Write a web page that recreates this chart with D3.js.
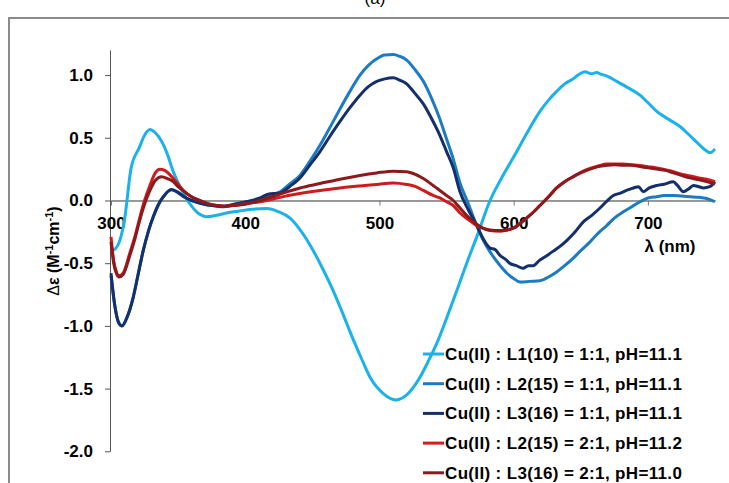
<!DOCTYPE html>
<html>
<head>
<meta charset="utf-8">
<script src="https://cdn.jsdelivr.net/npm/d3@7"></script>
<style>
  html, body { margin: 0; padding: 0; background: #fff; }
  svg { display: block; }
  text { font-family: "Liberation Sans", Arial, sans-serif; }
</style>
</head>
<body>
<svg id="chart" width="729" height="483"></svg>
<script>
// CD spectra of Cu(II) complexes: wavelength (nm) vs. Δε (M^-1 cm^-1)

const xTicks = [300, 400, 500, 600, 700];
const yTicks = [-2.0, -1.5, -1.0, -0.5, 0.0, 0.5, 1.0];

const seriesLabels = [
  "Cu(II) : L1(10) = 1:1, pH=11.1",
  "Cu(II) : L2(15) = 1:1, pH=11.1",
  "Cu(II) : L3(16) = 1:1, pH=11.1",
  "Cu(II) : L2(15) = 2:1, pH=11.2",
  "Cu(II) : L3(16) = 2:1, pH=11.0"
];
const seriesColors = ["#1BB1EA", "#1D7BC4", "#142F6C", "#CF1A1E", "#8C1A1C"];

// [wavelength, Δε]
const cuL1_11 = [[300,-0.41],[305,-0.36],[310,-0.16],[315,0.26],[321,0.42],[325,0.52],[329,0.566],[333,0.54],
  [337.8,0.47],[342,0.37],[346.4,0.23],[350,0.14],[355,0.04],[359,-0.03],[363.8,-0.09],[368,-0.12],[371,-0.13],
  [378,-0.12],[386,-0.10],[395,-0.085],[405,-0.07],[416,-0.064],[425,-0.09],[433.4,-0.14],[442,-0.25],[450.7,-0.40],
  [458,-0.55],[465.6,-0.72],[473,-0.91],[480.5,-1.11],[487,-1.27],[493,-1.41],[502.9,-1.54],[512.3,-1.59],
  [520.3,-1.55],[530.2,-1.41],[536,-1.29],[542.7,-1.14],[550,-0.94],[557.6,-0.72],[565,-0.50],[572.5,-0.29],
  [582.4,0.0],[590,0.16],[602.3,0.39],[610,0.54],[619.6,0.71],[626,0.80],[632,0.87],[638,0.93],[644.4,0.97],
  [648,1.0],[653.2,1.026],[658,1.01],[662,1.02],[664.3,1.01],[670,0.99],[676.8,0.95],[685,0.90],[694.1,0.84],
  [700,0.78],[706.6,0.71],[715,0.65],[723.9,0.59],[731,0.52],[738.8,0.44],[743,0.40],[746.3,0.38],[750,0.41]];

const cuL2_11 = [[300,-0.60],[303,-0.85],[306,-0.98],[308.5,-1.0],[312,-0.93],[316.6,-0.77],[320,-0.60],[324,-0.40],
  [328,-0.24],[331.5,-0.13],[335,-0.04],[339,0.03],[345,0.085],[350,0.06],[354,0.03],[360,0.0],[366,-0.02],
  [375,-0.04],[384,-0.045],[392,-0.03],[401,-0.01],[411,0.01],[418,0.04],[426,0.07],[433,0.13],[440.8,0.20],
  [448,0.31],[455.7,0.44],[463,0.58],[470.6,0.73],[478,0.87],[485.5,1.0],[492,1.08],[498,1.13],[504,1.16],
  [510.3,1.164],[515,1.15],[520.3,1.12],[526,1.05],[532.7,0.95],[539,0.81],[545,0.65],[550,0.49],[555,0.33],
  [560,0.14],[566,-0.02],[572.5,-0.2],[577,-0.31],[582.4,-0.41],[590,-0.52],[595,-0.58],[599.7,-0.62],
  [604.7,-0.65],[612,-0.645],[619.6,-0.64],[626,-0.61],[632,-0.57],[638,-0.52],[644.4,-0.46],[650,-0.40],
  [656.9,-0.33],[663,-0.26],[669.3,-0.20],[675,-0.14],[681.7,-0.09],[688,-0.05],[694.1,-0.01],[700,0.02],
  [706.6,0.03],[712,0.04],[719,0.04],[725,0.035],[731.4,0.03],[738,0.025],[743.8,0.016],[750,-0.01]];

const cuL3_11 = [[300,-0.58],[303,-0.85],[305.5,-0.97],[308,-1.0],[312,-0.93],[316.6,-0.77],[320,-0.60],[324,-0.40],
  [328,-0.24],[331.5,-0.13],[335,-0.04],[339,0.03],[345,0.088],[350,0.065],[354,0.034],[360,0.0],[366,-0.02],
  [375,-0.04],[383.7,-0.05],[392,-0.03],[401,-0.01],[411,0.02],[417,0.05],[426,0.06],[433,0.11],[440.8,0.18],
  [448,0.28],[455.7,0.39],[463,0.51],[470.6,0.63],[478,0.74],[485.5,0.84],[492,0.91],[498,0.95],[504,0.97],
  [510.3,0.978],[515,0.96],[520.3,0.93],[526,0.86],[532.7,0.77],[539,0.65],[545,0.52],[550,0.39],[555,0.26],
  [560,0.07],[566,-0.07],[572.5,-0.2],[577,-0.30],[582.4,-0.38],[586,-0.39],[590,-0.44],[594,-0.47],[597,-0.50],
  [602,-0.52],[607,-0.54],[611,-0.52],[614.6,-0.52],[619,-0.48],[624.6,-0.44],[630,-0.40],[634,-0.37],
  [639.5,-0.32],[645,-0.26],[651.9,-0.17],[658,-0.12],[664.3,-0.06],[669,-0.01],[674.3,0.04],[680,0.06],
  [684,0.08],[689.2,0.10],[693,0.11],[696.6,0.07],[701,0.10],[706.6,0.12],[712,0.13],[719,0.15],[722,0.12],
  [726.5,0.07],[730,0.09],[733.9,0.12],[738,0.11],[741.4,0.10],[746,0.11],[750,0.15]];

const cuL2_21 = [[300,-0.29],[302,-0.48],[304,-0.57],[306,-0.60],[309,-0.58],[314,-0.42],[318,-0.28],[321.6,-0.13],
  [325,0.0],[329,0.12],[333,0.22],[336.5,0.25],[340,0.24],[346.4,0.175],[350,0.13],[354,0.08],[360,0.03],[366,0.0],
  [372,-0.025],[378.7,-0.04],[385,-0.045],[391,-0.04],[400,-0.025],[411,-0.01],[420,0.01],[430,0.035],
  [440.8,0.056],[455.7,0.08],[470.6,0.10],[485.5,0.116],[498,0.128],[510.3,0.14],[520.3,0.128],[527,0.11],
  [532.7,0.08],[540,0.04],[545,0.02],[550,-0.01],[555,-0.04],[560,-0.10],[566,-0.15],[572.5,-0.20],[577,-0.22],
  [582.4,-0.24],[590,-0.245],[595,-0.235],[599.7,-0.22],[604,-0.19],[609.7,-0.14],[615,-0.09],[619.6,-0.04],
  [626,0.03],[632,0.10],[638,0.15],[644.4,0.19],[650,0.225],[656.9,0.255],[663,0.275],[669.3,0.29],[675,0.29],
  [681.7,0.29],[688,0.285],[694.1,0.28],[700,0.27],[706.6,0.26],[713,0.245],[719,0.23],[725,0.21],[731.4,0.196],
  [738,0.18],[743.8,0.17],[750,0.15]];

const cuL3_21 = [[300,-0.33],[302,-0.50],[304,-0.58],[306,-0.61],[309,-0.59],[314,-0.44],[318,-0.30],[321.6,-0.15],
  [325,-0.03],[329,0.08],[333,0.16],[337.8,0.19],[342,0.175],[346.4,0.15],[350,0.11],[354,0.075],[360,0.03],
  [366,0.0],[372,-0.025],[378.7,-0.04],[385,-0.045],[391,-0.04],[400,-0.03],[411,0.0],[420,0.03],[430,0.065],
  [440.8,0.10],[455.7,0.135],[470.6,0.17],[485.5,0.20],[498,0.22],[510.3,0.234],[520.3,0.23],[525.2,0.215],
  [532.7,0.175],[540,0.12],[545,0.08],[550,0.04],[555,0.0],[560,-0.06],[566,-0.13],[572.5,-0.19],[577,-0.22],
  [582.4,-0.235],[590,-0.24],[595,-0.235],[599.7,-0.22],[604,-0.19],[609.7,-0.14],[615,-0.09],[619.6,-0.04],
  [626,0.03],[632,0.10],[638,0.15],[644.4,0.19],[650,0.22],[656.9,0.25],[663,0.27],[669.3,0.28],[675,0.285],
  [681.7,0.28],[688,0.28],[694.1,0.27],[700,0.26],[706.6,0.25],[713,0.24],[719,0.22],[725,0.20],[731.4,0.18],
  [738,0.165],[743.8,0.15],[750,0.13]];

const allSeries = [cuL1_11, cuL2_11, cuL3_11, cuL2_21, cuL3_21];

const svg = d3.select("#chart");

// outer frame
svg.append("rect")
  .attr("x", 9).attr("y", 18).attr("width", 800).attr("height", 600)
  .attr("fill", "none").attr("stroke", "#8a8a8a").attr("stroke-width", 2);

// panel label
svg.append("text")
  .attr("x", 375).attr("y", 4)
  .attr("text-anchor", "middle")
  .attr("font-size", 17)
  .text("(a)");

const x = d3.scaleLinear().domain([300, 750]).range([111, 715]);
const y = d3.scaleLinear().domain([-2, 1.2]).range([451.3, 50]);

const fmt = v => v.toFixed(1);

// y axis
const yAxis = svg.append("g")
  .attr("transform", `translate(${x(300) - 1},0)`)
  .call(d3.axisLeft(y).tickValues(yTicks).tickFormat(fmt).tickSize(5).tickSizeOuter(0).tickPadding(12));
yAxis.select(".domain").attr("stroke", "#555");
yAxis.selectAll(".tick line").attr("stroke", "#555");
yAxis.selectAll(".tick text")
  .attr("font-family", "Liberation Sans, Arial, sans-serif")
  .attr("font-size", 17).attr("font-weight", "bold").attr("fill", "#000");

// x axis at Δε = 0
const xAxis = svg.append("g")
  .attr("transform", `translate(0,${y(0)})`)
  .call(d3.axisBottom(x).tickValues(xTicks).tickFormat(d3.format("d")).tickSize(5).tickSizeOuter(0).tickPadding(11));
xAxis.select(".domain").attr("stroke", "#333");
xAxis.selectAll(".tick line").attr("stroke", "#777");
xAxis.selectAll(".tick text")
  .attr("font-family", "Liberation Sans, Arial, sans-serif")
  .attr("font-size", 17).attr("font-weight", "bold").attr("fill", "#000");

// spectra
const line = d3.line()
  .x(d => x(d[0]))
  .y(d => y(d[1]))
  .curve(d3.curveMonotoneX);

svg.append("g")
  .selectAll("path")
  .data(allSeries)
  .join("path")
  .attr("d", line)
  .attr("fill", "none")
  .attr("stroke", (d, i) => seriesColors[i])
  .attr("stroke-width", 3)
  .attr("stroke-linejoin", "round");

// axis titles
svg.append("text")
  .attr("x", 670).attr("y", 252)
  .attr("text-anchor", "middle")
  .attr("font-size", 17).attr("font-weight", "bold")
  .text("λ (nm)");

const yTitle = svg.append("text")
  .attr("transform", "translate(59,251) rotate(-90)")
  .attr("text-anchor", "middle")
  .attr("font-size", 16).attr("font-weight", "bold");
yTitle.append("tspan").attr("font-weight", "normal").text("Δ");
yTitle.append("tspan").text("ε (M");
yTitle.append("tspan").attr("font-size", 11).attr("dy", -6).text("-1");
yTitle.append("tspan").attr("dy", 6).text("cm");
yTitle.append("tspan").attr("font-size", 11).attr("dy", -6).text("-1");
yTitle.append("tspan").attr("dy", 6).text(")");

// legend
const legend = svg.append("g");
const rowY = d => 354 + d * 29.7;
seriesLabels.forEach((label, i) => {
  const g = legend.append("g").attr("transform", `translate(0,${rowY(i)})`);
  g.append("line")
    .attr("x1", 423).attr("x2", 444).attr("y1", 0).attr("y2", 0)
    .attr("stroke", seriesColors[i]).attr("stroke-width", 3);
  g.append("text")
    .attr("x", 445).attr("y", 6)
    .attr("font-size", 17).attr("font-weight", "bold")
    .attr("letter-spacing", "0.35px")
    .text(label);
});
</script>
</body>
</html>
